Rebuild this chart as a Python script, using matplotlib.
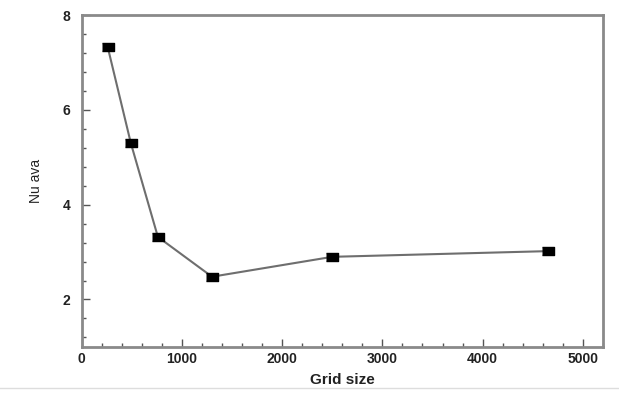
import matplotlib.pyplot as plt
from matplotlib.lines import Line2D
from matplotlib.ticker import MultipleLocator

plt.rcParams['font.family'] = ['Liberation Sans', 'DejaVu Sans']

grid_size = [260, 490, 760, 1300, 2500, 4650]
nu_ava = [7.32, 5.3, 3.32, 2.48, 2.9, 3.02]

fig = plt.figure(figsize=(6.19, 3.96), dpi=100)
ax = fig.add_axes([0.132, 0.124, 0.842, 0.838])

ax.plot(grid_size, nu_ava, color='#6e6e6e', linewidth=1.5, zorder=2)
# markers slightly wider than tall, as in the original
ax.scatter(grid_size, nu_ava, marker=[(-1.2, -0.9), (1.2, -0.9), (1.2, 0.9), (-1.2, 0.9)],
           s=70, color='black', zorder=3)

ax.set_xlim(0, 5200)
ax.set_ylim(1, 8)
ax.xaxis.set_major_locator(MultipleLocator(1000))
ax.xaxis.set_minor_locator(MultipleLocator(200))
ax.yaxis.set_major_locator(MultipleLocator(2))
ax.yaxis.set_minor_locator(MultipleLocator(0.4))
ax.tick_params(which='both', direction='in', color='#555555', width=1)
ax.tick_params(which='major', length=6, labelsize=10, pad=4)
ax.tick_params(axis='y', which='major', pad=8)
ax.tick_params(which='minor', length=3)
for lab in ax.get_xticklabels() + ax.get_yticklabels():
    lab.set_fontweight('bold')
    lab.set_color('#222222')

for s in ax.spines.values():
    s.set_color('#8a8a8a')
    s.set_linewidth(2)

ax.set_xlabel('Grid size', fontsize=11, fontweight='bold', color='#222222', labelpad=5)
ax.set_ylabel('Nu ava', fontsize=10, color='#222222', labelpad=14)

fig.add_artist(Line2D([0, 1], [0.02, 0.02], color='#dddddd', linewidth=1,
                      transform=fig.transFigure))

fig.savefig('out.png', dpi=100)
